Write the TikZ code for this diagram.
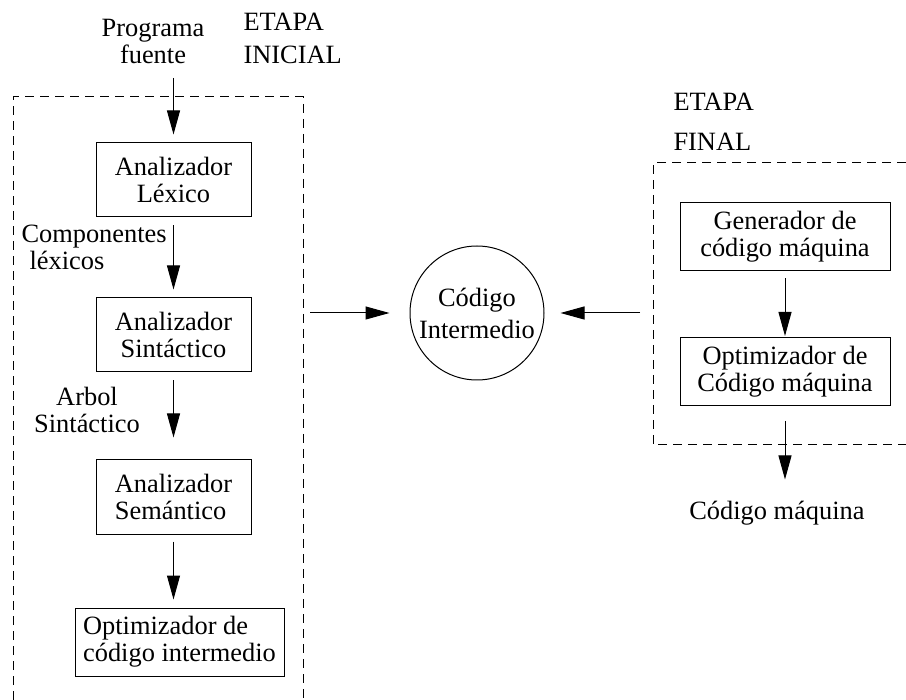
\documentclass[tikz,border=0pt]{standalone}
\usepackage{fontspec}
\setmainfont{Liberation Serif}
\usetikzlibrary{arrows.meta}
\begin{document}
\begin{tikzpicture}[x=0.5pt,y=-0.5pt,line width=0.5pt]
\tikzstyle{every node}+=[inner sep=0pt,font=\fontsize{13.2}{13.5}\selectfont]
\tikzstyle{fase}=[draw,align=center,minimum width=77.5pt,minimum height=37pt]
\tikzstyle{fasemaq}=[draw,align=center,minimum width=105pt,minimum height=34pt]
\tikzstyle{flecha}=[-{Triangle[length=12pt,width=6.5pt]}]
\tikzstyle{etapa}=[dash pattern=on 4.5pt off 3pt]
\useasboundingbox (0,0) rectangle (906,700);
\draw [etapa] (13,700) -- (13,97) -- (303,97) -- (303,700);
\draw [etapa] (906,163) -- (653,163) -- (653,445) -- (906,445);
\node (fuente) at (153,41) [align=center] {Programa\\fuente};
\node (inicial) at (243,13) [anchor=north west,align=left] {ETAPA\\[3pt]INICIAL};
\node [fase] (lexico) at (173.5,180) {Analizador\\Léxico};
\node [fase] (sintactico) at (173.5,335) {Analizador\\Sintáctico};
\node [fase,align=left] (semantico) at (173.5,497) {Analizador\\Semántico};
\node [draw,align=left,minimum width=104.5pt,minimum height=34pt] (optinter) at (179.5,642) {Optimizador de\\código intermedio};
\node (complex) at (21,225) [anchor=north west,align=left] {Componentes\\\hspace*{4pt}léxicos};
\node (arbol) at (87,387) [anchor=north,align=center] {Arbol\\Sintáctico};
\node [circle,draw,minimum size=67pt,align=center] (interm) at (477,313) {Código\\[2.5pt]Intermedio};
\node (final) at (673,93) [anchor=north west,align=left] {ETAPA\\[6.5pt]FINAL};
\node [fasemaq] (generador) at (785,237) {Generador de\\código máquina};
\node [fasemaq] (optmaq) at (785,371.5) {Optimizador de\\Código máquina};
\node (maquina) at (777,513) {Código máquina};
\coordinate (inicialfin) at (310,313);
\coordinate (finalini) at (640,313);
\draw [flecha,shorten <=7pt,shorten >=4pt] (lexico.north |- fuente.south) -- (lexico);
\draw [flecha,shorten <=4pt,shorten >=4pt] (lexico) -- (sintactico);
\draw [flecha,shorten <=4pt,shorten >=11pt] (sintactico) -- (semantico);
\draw [flecha,shorten <=3.5pt,shorten >=4pt] (semantico.south) -- (semantico.south |- optinter.north);
\draw [flecha,shorten >=10pt] (inicialfin) -- (interm.west);
\draw [flecha,shorten >=8pt] (finalini) -- (interm.east);
\draw [flecha,shorten <=3.5pt,shorten >=0.5pt] (generador) -- (optmaq);
\draw [flecha,shorten <=7.5pt,shorten >=10.5pt] (optmaq.south) -- (optmaq.south |- maquina.north);
\end{tikzpicture}
\end{document}
